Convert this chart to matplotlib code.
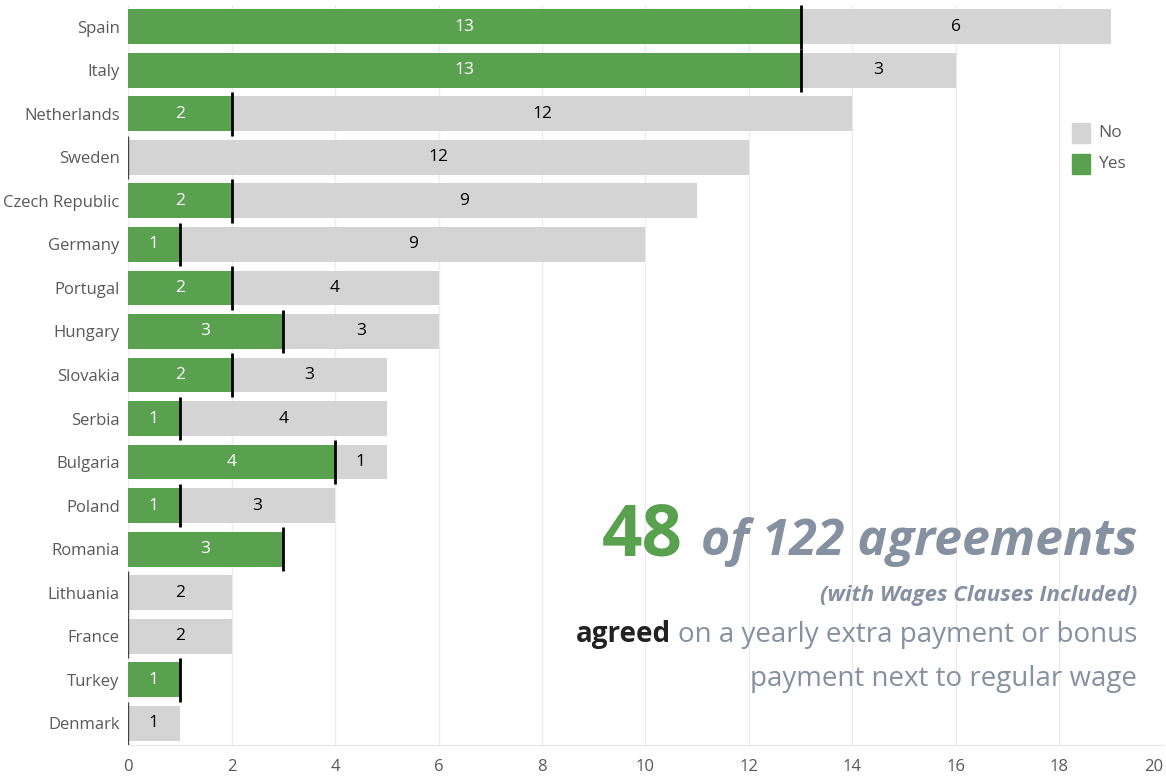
import matplotlib
matplotlib.use("Agg")
import matplotlib.pyplot as plt
import matplotlib.patches as patches

countries = ["Spain", "Italy", "Netherlands", "Sweden", "Czech Republic", "Germany",
             "Portugal", "Hungary", "Slovakia", "Serbia", "Bulgaria", "Poland",
             "Romania", "Lithuania", "France", "Turkey", "Denmark"]
yes_counts = [13, 13, 2, 0, 2, 1, 2, 3, 2, 1, 4, 1, 3, 0, 0, 1, 0]
no_counts = [6, 3, 12, 12, 9, 9, 4, 3, 3, 4, 1, 3, 0, 2, 2, 0, 1]
x_ticks = [0, 2, 4, 6, 8, 10, 12, 14, 16, 18, 20]

GREEN = "#59a14f"
GRAY = "#d4d4d4"
TEXT_GRAY = "#595959"
SLATE = "#8591a0"

plt.rcParams['font.family'] = ['Open Sans', 'DejaVu Sans']

fig = plt.figure(figsize=(11.66, 7.79), dpi=100)
ax = fig.add_axes([0.1098, 0.0436, 0.8876, 0.95])

y = list(range(len(countries)))
ax.barh(y, yes_counts, height=0.8, color=GREEN, zorder=2)
ax.barh(y, no_counts, left=yes_counts, height=0.8, color=GRAY, zorder=2)

for i, (yv, nv) in enumerate(zip(yes_counts, no_counts)):
    if yv > 0:
        ax.text(yv / 2, i, str(yv), ha="center", va="center", color="white",
                fontsize=12.5, zorder=4)
        ax.plot([yv, yv], [i - 0.5, i + 0.5], color="black", lw=2, zorder=3,
                solid_capstyle="butt")
    else:
        ax.plot([0, 0], [i - 0.5, i + 0.5], color="#444444", lw=1, zorder=3,
                solid_capstyle="butt")
    if nv > 0:
        ax.text(yv + nv / 2, i, str(nv), ha="center", va="center", color="black",
                fontsize=12.5, zorder=4)

ax.set_xlim(0, 20)
ax.set_ylim(len(countries) - 0.5, -0.5)
ax.set_xticks(x_ticks)
ax.set_xticklabels([str(t) for t in x_ticks])
ax.get_xticklabels()[-1].set_horizontalalignment("right")
ax.set_yticks(y)
ax.set_yticklabels(countries)
ax.tick_params(axis="both", length=0, labelsize=12, labelcolor=TEXT_GRAY)
ax.tick_params(axis="x", pad=10)
ax.tick_params(axis="y", pad=6)
ax.grid(axis="x", color="#ececec", lw=1, zorder=0)
for s in ["top", "right", "left"]:
    ax.spines[s].set_visible(False)
ax.spines["bottom"].set_color("#e6e6e6")

# legend
leg_items = [("No", GRAY), ("Yes", GREEN)]
for k, (lab, col) in enumerate(leg_items):
    fy = 1 - (133 + 31 * k) / 779
    fig.patches.append(patches.Rectangle((1072 / 1166, fy - 10 / 779), 18 / 1166, 20 / 779,
                                         transform=fig.transFigure, color=col))
    fig.text(1098 / 1166, fy, lab, ha="left", va="center", fontsize=12.5, color=TEXT_GRAY)

# summary text block
fig.canvas.draw()
r = fig.canvas.get_renderer()
right_x = 1137 / 1166

t1 = fig.text(right_x, 1 - 555 / 779, "of 122 agreements", ha="right", va="baseline",
              fontsize=36, fontstyle="italic", fontweight="bold", color=SLATE)
bb = t1.get_window_extent(r)
fig.text(bb.x0 / fig.bbox.width - 18 / 1166, 1 - 555 / 779, "48", ha="right", va="baseline",
         fontsize=51, fontweight="bold", color=GREEN)

fig.text(right_x, 1 - 601 / 779, "(with Wages Clauses Included)", ha="right", va="baseline",
         fontsize=16, fontstyle="italic", fontweight="bold", color=SLATE)

t3 = fig.text(right_x, 1 - 642 / 779, "on a yearly extra payment or bonus", ha="right",
              va="baseline", fontsize=20, color=SLATE)
bb3 = t3.get_window_extent(r)
fig.text(bb3.x0 / fig.bbox.width - 7 / 1166, 1 - 642 / 779, "agreed", ha="right", va="baseline",
         fontsize=20, fontweight="bold", color="#222222")
fig.text(right_x, 1 - 686 / 779, "payment next to regular wage", ha="right", va="baseline",
         fontsize=20, color=SLATE)

fig.savefig("out.png", dpi=100)
